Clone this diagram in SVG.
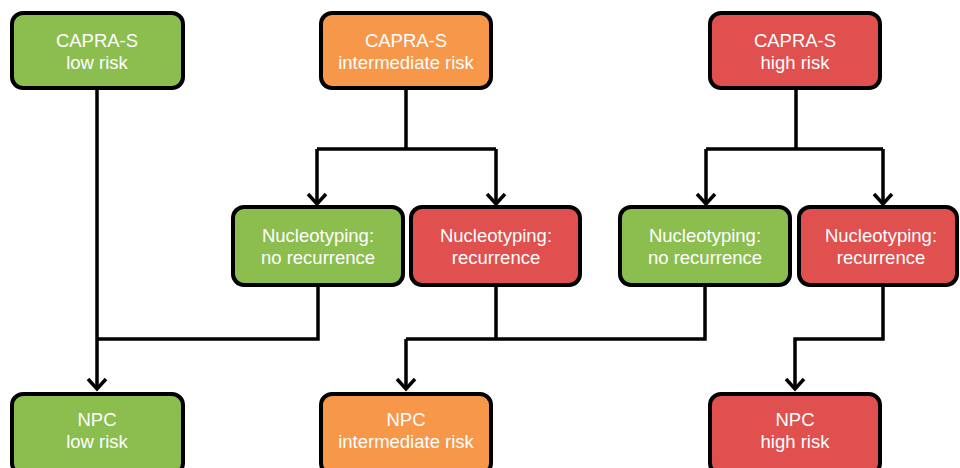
<svg xmlns="http://www.w3.org/2000/svg" width="960" height="468" viewBox="0 0 960 468">
<style>
.box{stroke:#000;stroke-width:4}
.g{fill:#8CBE4F}
.o{fill:#F7974A}
.r{fill:#E0504E}
text{font-family:"Liberation Sans",Arial,sans-serif;font-size:18.5px;fill:#fff;text-anchor:middle}
.c{fill:none;stroke:#000;stroke-width:3.5;stroke-linejoin:miter}
</style>
<defs>
<marker id="ah" markerUnits="userSpaceOnUse" markerWidth="24" markerHeight="24" viewBox="-14 -12 16 24" refX="0" refY="0" orient="auto">
<path d="M-10,-9 L0,0 L-10,9" fill="none" stroke="#000" stroke-width="3.5"/>
</marker>
</defs>
<g id="connectors">
<path class="c" d="M97,88 V389" marker-end="url(#ah)"/>
<path class="c" d="M406,88 V149 M317,149 H496"/>
<path class="c" d="M317,149 V204" marker-end="url(#ah)"/>
<path class="c" d="M496,149 V204" marker-end="url(#ah)"/>
<path class="c" d="M796,88 V149 M706,149 H883"/>
<path class="c" d="M706,149 V204" marker-end="url(#ah)"/>
<path class="c" d="M883,149 V204" marker-end="url(#ah)"/>
<path class="c" d="M318,285 V339 H97"/>
<path class="c" d="M496,285 V339 M705,285 V339 H406"/>
<path class="c" d="M406,339 V389" marker-end="url(#ah)"/>
<path class="c" d="M883,285 V339 H795 V389" marker-end="url(#ah)"/>
</g>
<g id="capra-low"><rect class="box g" x="12" y="13" width="171" height="75" rx="11"/><text x="97" y="47">CAPRA-S</text><text x="97" y="69">low risk</text></g>
<g id="capra-int"><rect class="box o" x="321" y="13" width="170" height="75" rx="11"/><text x="406" y="47">CAPRA-S</text><text x="406" y="69">intermediate risk</text></g>
<g id="capra-high"><rect class="box r" x="710" y="13" width="170" height="75" rx="11"/><text x="795" y="47">CAPRA-S</text><text x="795" y="69">high risk</text></g>
<g id="nt-int-no"><rect class="box g" x="233" y="207" width="170" height="78" rx="11"/><text x="318" y="242">Nucleotyping:</text><text x="318" y="264">no recurrence</text></g>
<g id="nt-int-rec"><rect class="box r" x="411" y="207" width="169" height="78" rx="11"/><text x="496" y="242">Nucleotyping:</text><text x="496" y="264">recurrence</text></g>
<g id="nt-high-no"><rect class="box g" x="620" y="207" width="170" height="78" rx="11"/><text x="705" y="242">Nucleotyping:</text><text x="705" y="264">no recurrence</text></g>
<g id="nt-high-rec"><rect class="box r" x="799" y="207" width="158" height="78" rx="11"/><text x="881" y="242">Nucleotyping:</text><text x="881" y="264">recurrence</text></g>
<g id="npc-low"><rect class="box g" x="12" y="394" width="171" height="80" rx="11"/><text x="97" y="426">NPC</text><text x="97" y="448">low risk</text></g>
<g id="npc-int"><rect class="box o" x="321" y="394" width="170" height="80" rx="11"/><text x="406" y="426">NPC</text><text x="406" y="448">intermediate risk</text></g>
<g id="npc-high"><rect class="box r" x="710" y="394" width="170" height="80" rx="11"/><text x="795" y="426">NPC</text><text x="795" y="448">high risk</text></g>
</svg>
